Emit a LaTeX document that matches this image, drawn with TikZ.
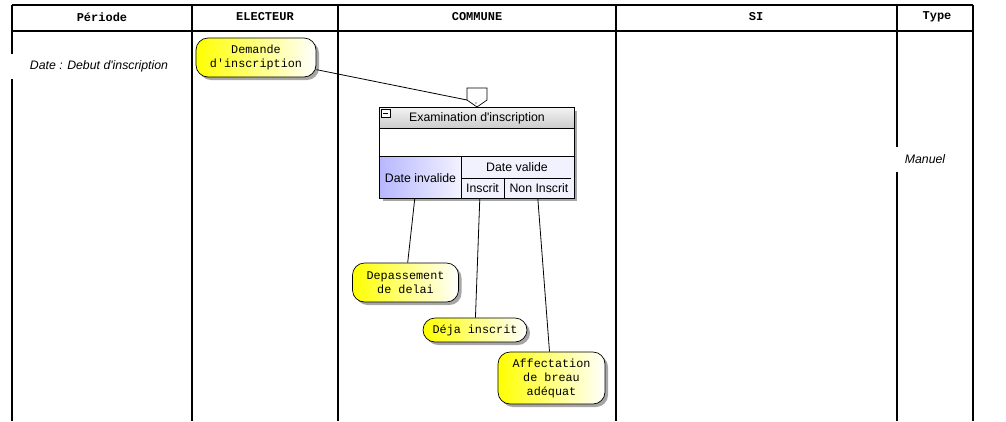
\documentclass[tikz,border=0pt]{standalone}
\usepackage{fontspec}
\setmainfont{Liberation Sans}
\setmonofont{Liberation Mono}
\usetikzlibrary{shadows,calc}

\begin{document}
\begin{tikzpicture}[
    x=1pt, y=-1pt,
    lane/.style={line width=1.8pt},
    lanehead/.style={font=\ttfamily\bfseries\fontsize{12}{13}\selectfont},
    lanetext/.style={fill=white, inner sep=0pt, minimum height=25pt,
        font=\itshape\fontsize{12.3}{14}\selectfont},
    term/.style={draw, line width=0.7pt, rounded corners=12pt, align=center,
        left color=yellow, middle color=yellow!70, right color=white,
        drop shadow={fill=gray!70, shadow xshift=3pt, shadow yshift=-3pt, opacity=1},
        font=\ttfamily\fontsize{11.8}{14}\selectfont, inner sep=2pt},
    actlabel/.style={font=\fontsize{12.3}{14}\selectfont, inner sep=0pt},
    link/.style={line width=0.8pt}
]
    \useasboundingbox (0,0) rectangle (1006,421);

    % swimlanes
    \draw[lane] (12,5) -- (973,5);
    \draw[lane] (12,31) -- (973,31);
    \foreach \x in {12,192,338,616,897,973}
        \draw[lane] (\x,5) -- (\x,421);

    \node (hper) at (102,17) [lanehead] {Période};
    \node (helec) at (265,17) [lanehead] {ELECTEUR};
    \node (hcom) at (477,17) [lanehead] {COMMUNE};
    \node (hsi) at (756,17) [lanehead] {SI};
    \node (htype) at (937,17) [lanehead] {Type};

    \node (debut) at (99,66) [lanetext, minimum width=182pt] {Date : Debut d\textquotesingle inscription};
    \node (manuel) at (925,159) [lanetext, minimum width=62pt] {Manuel};

    % terminals
    \node (demande) at (256,57.5) [term, minimum width=120pt, minimum height=39pt] {Demande\\d'inscription};
    \node (depas) at (405.5,282.5) [term, minimum width=106pt, minimum height=39pt] {Depassement\\de delai};
    \node (deja) at (475,330) [term, minimum width=104pt, minimum height=24pt] {Déja inscrit};
    \node (affect) at (551.5,378) [term, minimum width=107pt, minimum height=52pt] {Affectation\\de breau\\ adéquat};

    % activity box
    \node (exam) at (477,153) [minimum width=194pt, minimum height=90pt, inner sep=0pt, fill=white,
        drop shadow={fill=gray!70, shadow xshift=3pt, shadow yshift=-3pt, opacity=1}] {};
    \shade[top color=gray!10, bottom color=gray!40] (exam.north west) rectangle (574,128);
    \shade[left color=blue!28, right color=blue!5] (380,156) rectangle (461,198);
    \fill[blue!5] (461,156) rectangle (exam.south east);
    \draw[line width=0.7pt] (380,128) -- (574,128);
    \draw[line width=0.7pt] (380,156) -- (574,156);
    \draw[line width=0.7pt] (461,156) -- (461,198);
    \draw[line width=0.7pt] (461,178) -- (571,178);
    \draw[line width=0.7pt] (504,178) -- (504,198);
    \draw[line width=0.8pt] (exam.north west) rectangle (exam.south east);
    \draw[line width=0.6pt, fill=white] (381,109) rectangle (390,117);
    \draw[line width=0.6pt] (383,113) -- (388,113);

    \node (examtitle) at (477,118.5) [actlabel] {Examination d\textquotesingle inscription};
    \node (dinv) at (420.5,178) [actlabel] {Date invalide};
    \node (dval) at (517,167) [actlabel] {Date valide};
    \node (insc) at (482.5,188.5) [actlabel] {Inscrit};
    \node (nonins) at (539,188.5) [actlabel] {Non Inscrit};

    % gate above the box
    \coordinate (gate) at (467,100);
    \draw[line width=0.7pt, fill=white] (467,88) -- (487,88) -- (487,100) -- (477,107) -- (gate) -- cycle;
    \fill (476,103) circle (0.7pt);

    \coordinate (exinv) at ($(exam.south west)+(35,0)$);
    \coordinate (exinsc) at ($(exam.south west)+(100,0)$);
    \coordinate (exnon) at ($(exam.south west)+(158,0)$);

    \draw[link] (demande) -- (gate);
    \draw[link] (exinv) -- (depas);
    \draw[link] (exinsc) -- (deja);
    \draw[link] (exnon) -- (affect);

\end{tikzpicture}
\end{document}
